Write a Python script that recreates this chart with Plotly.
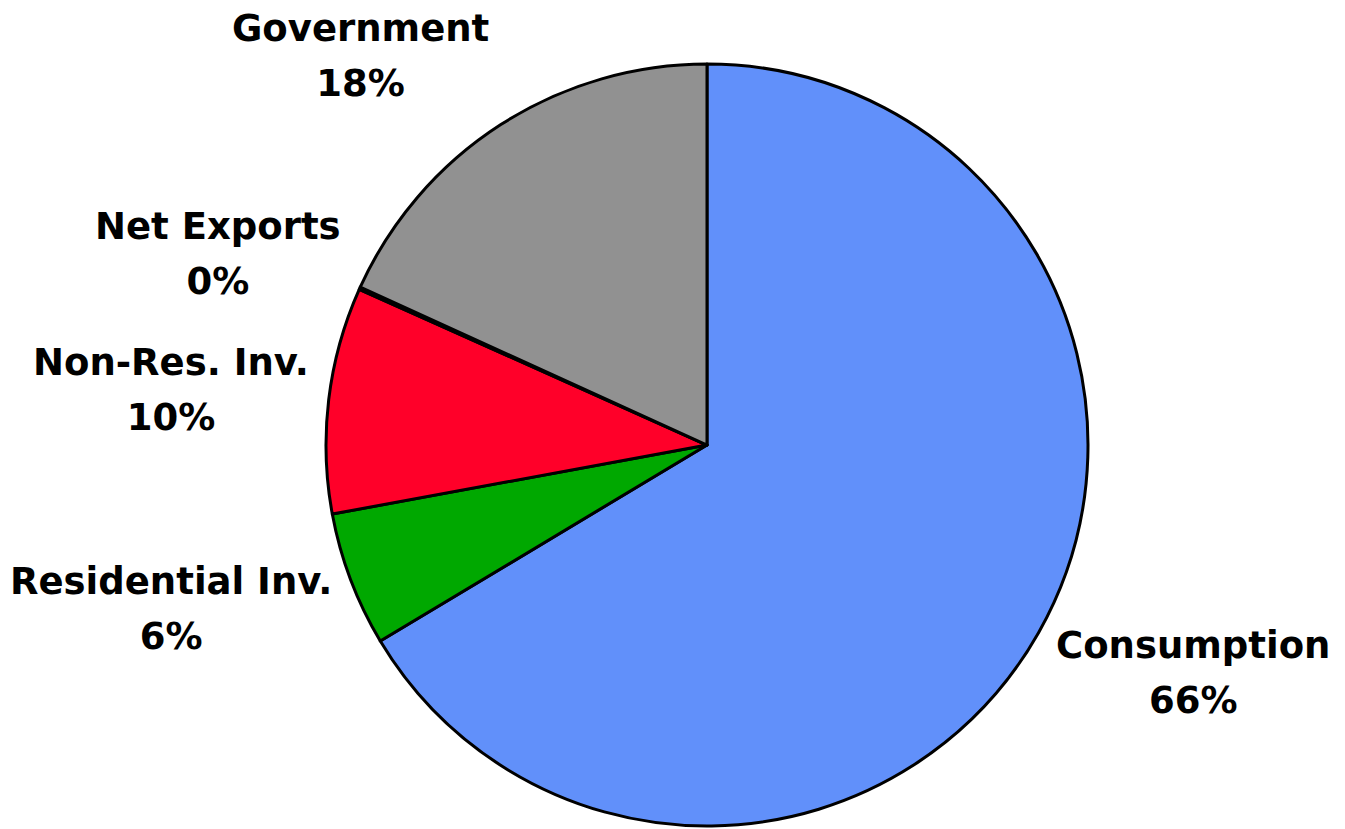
import math
import plotly.graph_objects as go

# GDP components, share of total (%)
components = ["Consumption", "Residential Inv.", "Non-Res. Inv.", "Net Exports", "Government"]
shares = [66.4, 5.7, 9.6, 0.1, 18.2]
colors = ["#6190FA", "#00A800", "#FF0029", "#FFFFFF", "#919191"]

W, H = 1345, 829
dom_x = [0.15, 0.9013]
dom_y = [0.0036, 0.9228]

fig = go.Figure(
    go.Pie(
        labels=components,
        values=shares,
        sort=False,
        direction="clockwise",
        rotation=0,
        marker=dict(colors=colors, line=dict(color="#000000", width=3)),
        textinfo="none",
        showlegend=False,
        hoverinfo="label+percent",
        domain=dict(x=dom_x, y=dom_y),
    )
)

# pie geometry in pixels (no margins), used to place the outside labels
cx = W * (dom_x[0] + dom_x[1]) / 2
cy = H * (1 - (dom_y[0] + dom_y[1]) / 2)
R = min(W * (dom_x[1] - dom_x[0]), H * (dom_y[1] - dom_y[0])) / 2

total = sum(shares)
cum = 0.0
for name, v in zip(components, shares):
    theta = 2 * math.pi * (cum + v / 2) / total
    cum += v
    ux, uy = math.sin(theta), -math.cos(theta)  # screen y points down
    px, py = cx + R * ux, cy + R * uy
    lx = px + ux * 18
    ly = py + uy * 82
    pct = round(100 * v / total)
    fig.add_annotation(
        x=lx / W,
        y=1 - ly / H,
        xref="paper",
        yref="paper",
        xanchor="left" if ux > 0 else "right",
        yanchor="middle",
        align="center",
        showarrow=False,
        text=f'<span style="font-size:37px"><b>{name}</b><br><b>{pct}%</b></span>',
        font=dict(family="DejaVu Sans", size=42, color="#000000"),
    )

fig.update_layout(
    width=W,
    height=H,
    margin=dict(l=0, r=0, t=0, b=0),
    paper_bgcolor="#FFFFFF",
    plot_bgcolor="#FFFFFF",
)

fig.write_html("out.html")
